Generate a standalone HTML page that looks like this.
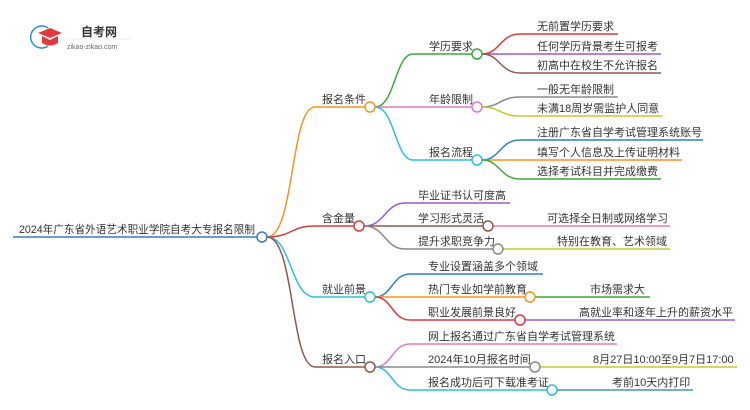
<!DOCTYPE html>
<html><head><meta charset="utf-8"><style>
html,body{margin:0;padding:0;background:#fff;}
svg{display:block}
text{font-family:"Liberation Sans","Noto Sans CJK SC",sans-serif;font-size:11px;fill:#333;}
path{fill:none;stroke-width:1.5}
circle{fill:#fff;stroke-width:1.5}
</style></head><body>
<svg width="750" height="410" viewBox="0 0 750 410">
<!-- logo -->
<path d="M48 28 A11 11 0 1 0 48 46" stroke="#2a8fd6" stroke-width="4"/>
<path d="M38 33 L50 28 L62 33 L50 38 Z" style="fill:#e23a3a;stroke:none"/>
<path d="M42 36 L42 43 Q50 48 58 43 L58 36 L50 40 Z" style="fill:#e23a3a;stroke:none"/>
<text x="81" y="36" style="font-size:12px;font-weight:bold;fill:#333">自考网</text>
<line x1="66" y1="39" x2="131" y2="39" stroke="#ddd" stroke-width="0.6"/>
<text x="67" y="49" style="font-size:7px;fill:#666">zikao-zikao.com</text>

<!-- root -->
<path d="M13 237 L257 237" stroke="#3a7bbf"/>
<text x="19" y="233" textLength="236" lengthAdjust="spacingAndGlyphs">2024年广东省外语艺术职业学院自考大专报名限制</text>
<path d="M267 237 C295 237 290 107 315 107 L365 107" stroke="#f7931e"/>
<path d="M267 237 C292 237 290 226 315 226 L354 226" stroke="#e0383e"/>
<path d="M267 237 C292 237 290 297 315 297 L365 297" stroke="#2bc0d8"/>
<path d="M267 237 C295 237 290 367 315 367 L365 367" stroke="#8b5a4a"/>
<circle cx="262" cy="237" r="5" stroke="#3a7bbf"/>
<text x="322" y="103">报名条件</text>
<text x="322" y="222">含金量</text>
<text x="322" y="293">就业前景</text>
<text x="322" y="363">报名入口</text>

<!-- 报名条件 -->
<path d="M375 107 C395 107 395 54 413 54 L472 54" stroke="#3aa93a"/>
<path d="M375 107 L472 107" stroke="#e879c0"/>
<path d="M375 107 C395 107 395 160 413 160 L472 160" stroke="#2bc0d8"/>
<circle cx="370" cy="107" r="5" stroke="#f7931e"/>
<text x="429" y="50">学历要求</text>
<text x="429" y="103">年龄限制</text>
<text x="429" y="156">报名流程</text>

<path d="M482 54 C500 54 500 34 520 34 L618 34" stroke="#e0383e"/>
<path d="M482 54 L661 54" stroke="#9b59d0"/>
<path d="M482 54 C500 54 500 73 520 73 L661 73" stroke="#8b5a4a"/>
<circle cx="477" cy="54" r="5" stroke="#3aa93a"/>
<text x="537" y="30">无前置学历要求</text>
<text x="537" y="50">任何学历背景考生可报考</text>
<text x="537" y="69">初高中在校生不允许报名</text>

<path d="M482 107 C500 107 500 97 520 97 L618 97" stroke="#8a8a8a"/>
<path d="M482 107 C500 107 500 116 520 116 L662 116" stroke="#c8c832"/>
<circle cx="477" cy="107" r="5" stroke="#e879c0"/>
<text x="537" y="93">一般无年龄限制</text>
<text x="537" y="112">未满18周岁需监护人同意</text>

<path d="M482 160 C500 160 500 140 520 140 L703 140" stroke="#2f7fc0"/>
<path d="M482 160 L682 160" stroke="#f7931e"/>
<path d="M482 160 C500 160 500 179 520 179 L661 179" stroke="#3aa93a"/>
<circle cx="477" cy="160" r="5" stroke="#2bc0d8"/>
<text x="537" y="136">注册广东省自学考试管理系统账号</text>
<text x="537" y="156">填写个人信息及上传证明材料</text>
<text x="537" y="175">选择考试科目并完成缴费</text>

<!-- 含金量 -->
<path d="M364 226 C385 226 385 203 405 203 L510 203" stroke="#9b59d0"/>
<path d="M364 226 L483 226" stroke="#8b5a4a"/>
<path d="M364 226 C385 226 385 249 405 249 L493 249" stroke="#8a8a8a"/>
<circle cx="359" cy="226" r="5" stroke="#e0383e"/>
<text x="418" y="199">毕业证书认可度高</text>
<text x="418" y="222">学习形式灵活</text>
<text x="418" y="245">提升求职竞争力</text>
<path d="M493 226 L670 226" stroke="#e879c0"/>
<path d="M503 249 L670 249" stroke="#c8c832"/>
<circle cx="488" cy="226" r="5" stroke="#8b5a4a"/>
<circle cx="498" cy="249" r="5" stroke="#8a8a8a"/>
<text x="547" y="222">可选择全日制或网络学习</text>
<text x="557" y="245">特别在教育、艺术领域</text>

<!-- 就业前景 -->
<path d="M375 297 C392 297 392 274 410 274 L543 274" stroke="#2f7fc0"/>
<path d="M375 297 L525 297" stroke="#f7931e"/>
<path d="M375 297 C392 297 392 320 410 320 L515 320" stroke="#e0383e"/>
<circle cx="370" cy="297" r="5" stroke="#2bc0d8"/>
<text x="428" y="270">专业设置涵盖多个领域</text>
<text x="428" y="293">热门专业如学前教育</text>
<text x="428" y="316">职业发展前景良好</text>
<path d="M535 297 L650 297" stroke="#3aa93a"/>
<path d="M525 320 L735 320" stroke="#9b59d0"/>
<circle cx="530" cy="297" r="5" stroke="#f7931e"/>
<circle cx="520" cy="320" r="5" stroke="#e0383e"/>
<text x="590" y="293">市场需求大</text>
<text x="579" y="316">高就业率和逐年上升的薪资水平</text>

<!-- 报名入口 -->
<path d="M375 367 C392 367 392 344 410 344 L617 344" stroke="#e879c0"/>
<path d="M375 367 L530 367" stroke="#8a8a8a"/>
<path d="M375 367 C392 367 392 390 410 390 L547 390" stroke="#2bc0d8"/>
<circle cx="370" cy="367" r="5" stroke="#8b5a4a"/>
<text x="428" y="340">网上报名通过广东省自学考试管理系统</text>
<text x="428" y="363">2024年10月报名时间</text>
<text x="428" y="386">报名成功后可下载准考证</text>
<path d="M540 367 L737 367" stroke="#c8c832"/>
<path d="M557 390 L693 390" stroke="#4a90c0"/>
<circle cx="535" cy="367" r="5" stroke="#8a8a8a"/>
<circle cx="552" cy="390" r="5" stroke="#2bc0d8"/>
<text x="593" y="363">8月27日10:00至9月7日17:00</text>
<text x="612" y="386">考前10天内打印</text>
</svg>
</body></html>
